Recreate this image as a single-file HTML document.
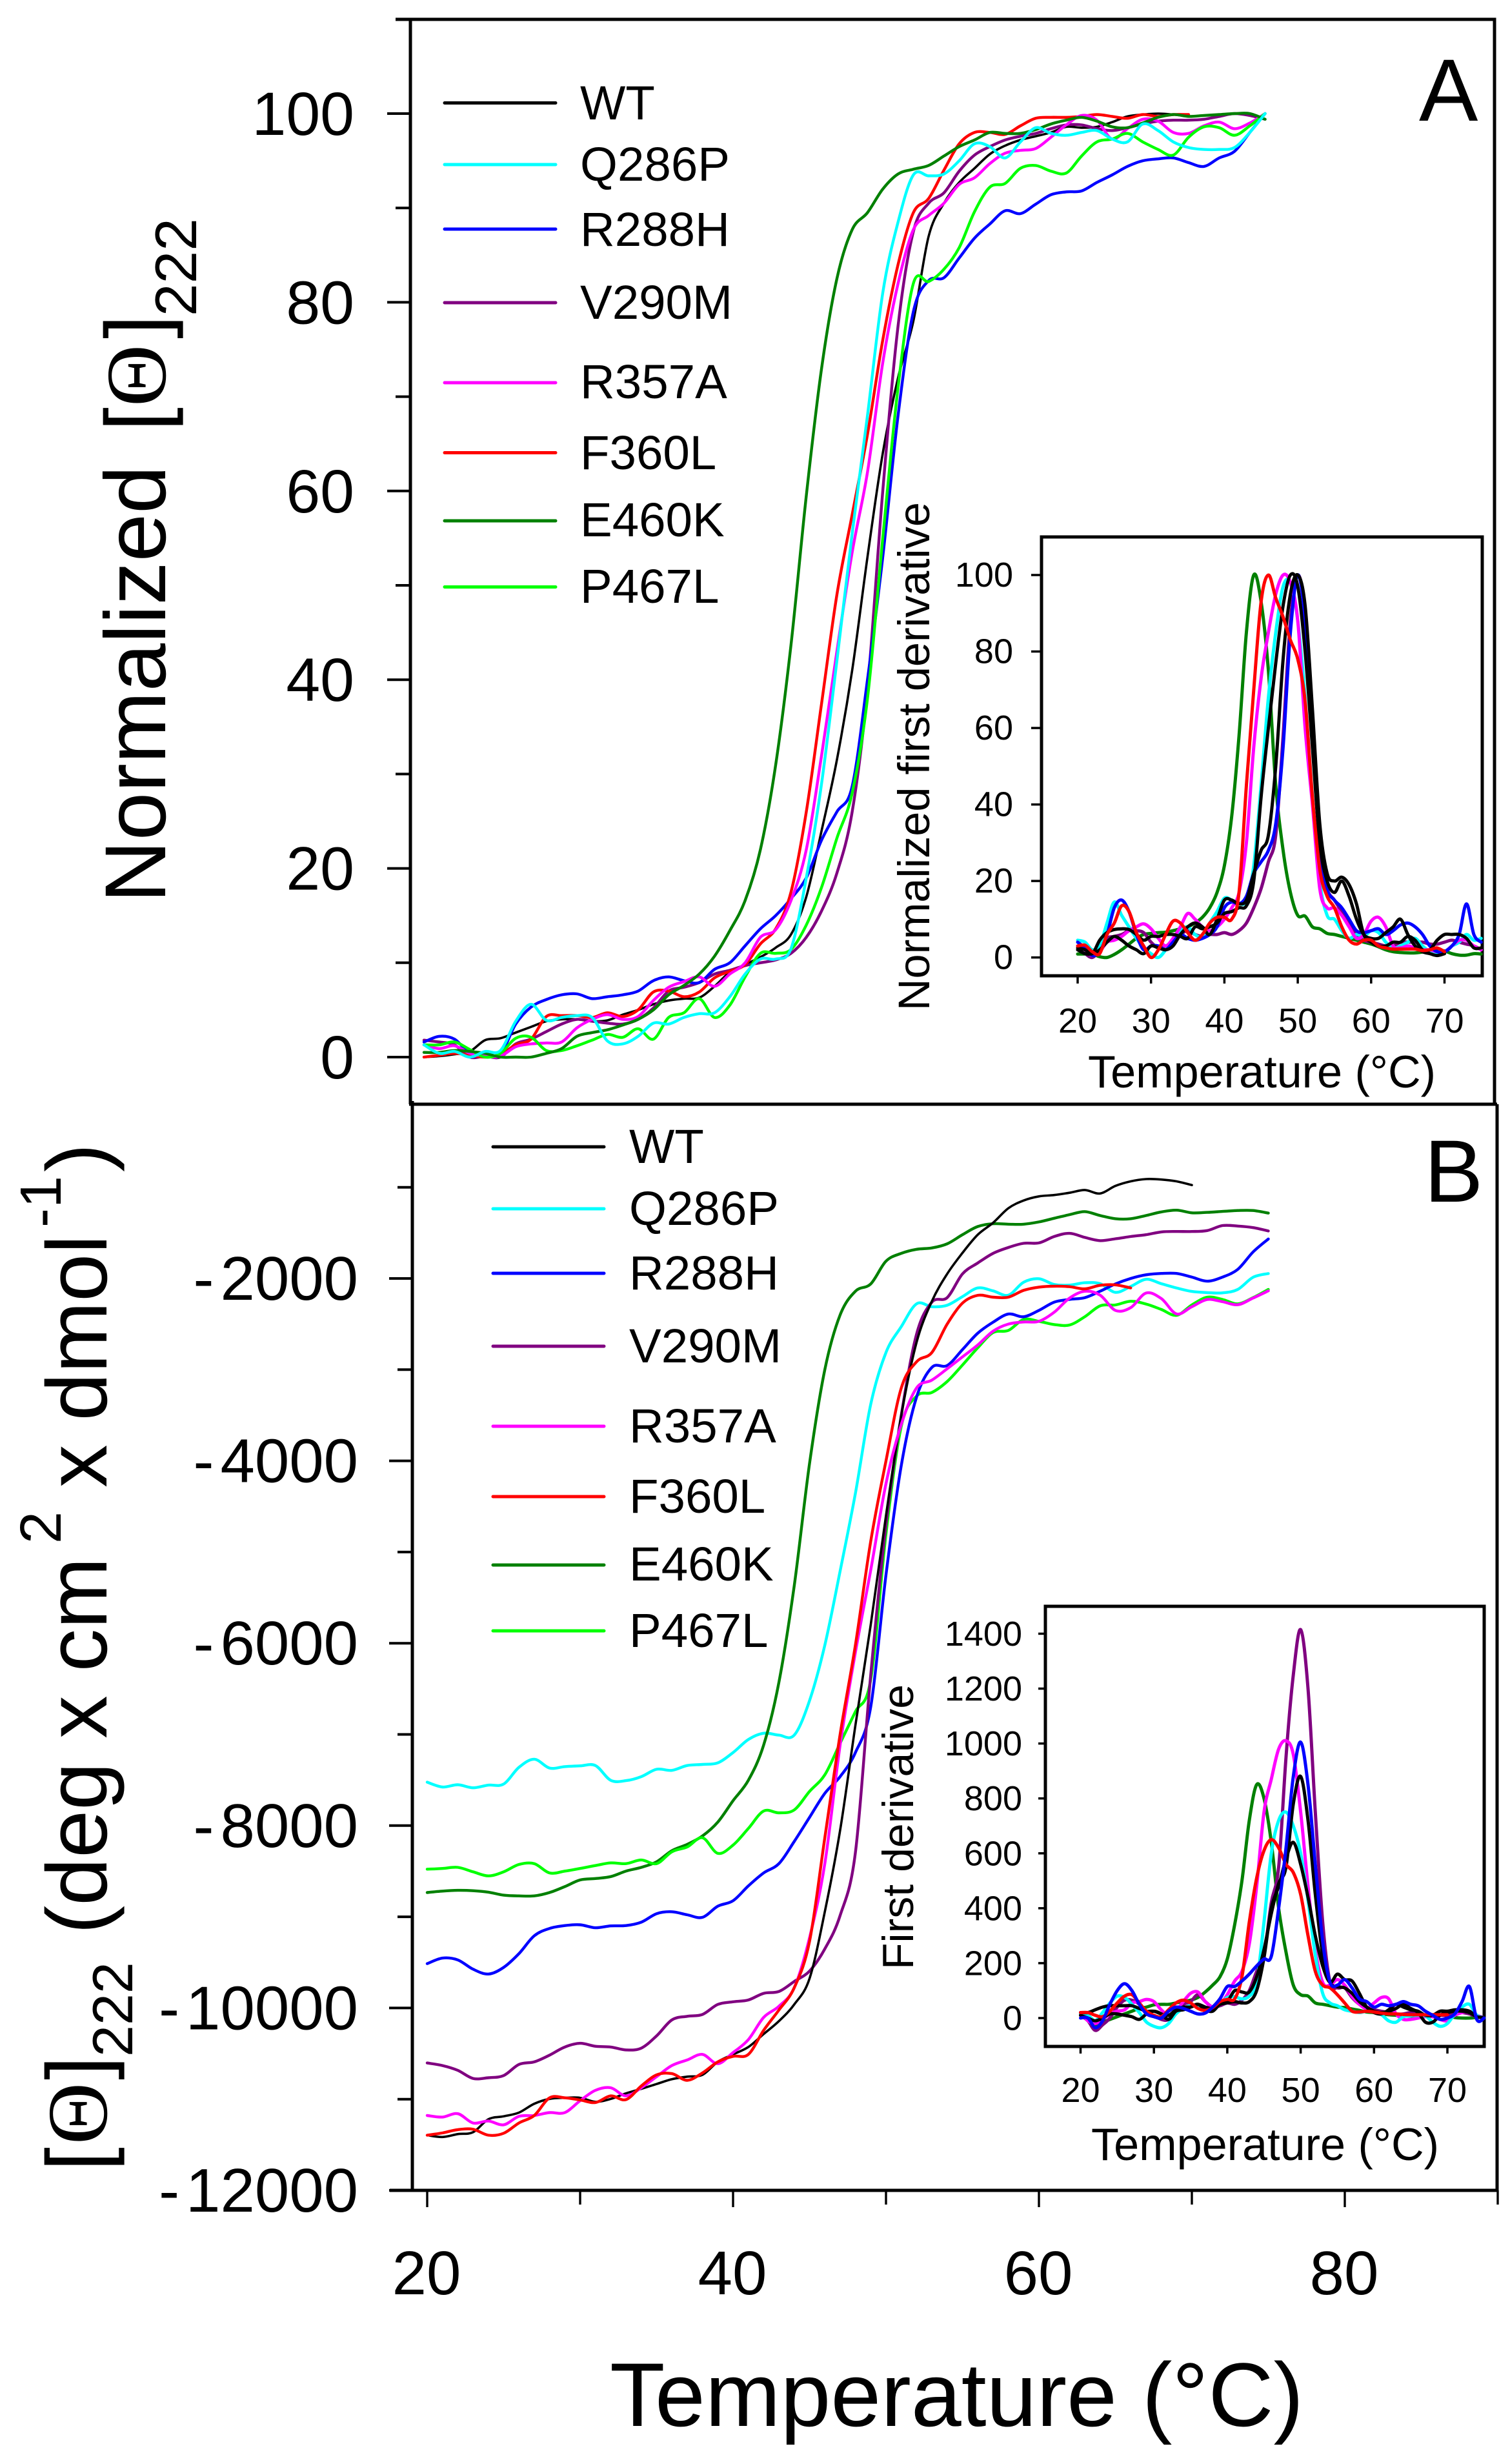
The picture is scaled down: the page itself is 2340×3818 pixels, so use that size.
<!DOCTYPE html>
<html lang="en">
<head>
<meta charset="utf-8">
<title>Thermal denaturation curves</title>
<style>
html,body{margin:0;padding:0;background:#fff;}
svg{display:block;}
text{font-family:"Liberation Sans",Arial,sans-serif;fill:#000;}
.serif{font-family:"Liberation Serif","Times New Roman",serif;}
</style>
</head>
<body>
<svg id="figure" xmlns="http://www.w3.org/2000/svg" width="2340" height="3818" viewBox="0 0 2340 3818">
<rect x="0" y="0" width="2340" height="3818" fill="#fff"/>
<g id="frames" stroke="#000" stroke-width="5" fill="none">
  <path d="M613 30H2316V1711M636 30V1711M634 1711H2320"/>
  <path d="M639 1706V3394M604 3394H2320V1711"/>
  <rect x="1614" y="832" width="683" height="680"/>
  <rect x="1620" y="2489" width="680" height="682"/>
</g>
<g id="ticks"></g>
<g id="curves"></g>
<g id="labels"></g>

<text x="2199" y="187" font-size="137">A</text>
<text x="2207" y="1862" font-size="137">B</text>

<g>
  <text transform="translate(256,1399) rotate(-90)" font-size="134">Normalized</text>
  <text transform="translate(256,668) rotate(-90)" font-size="133">[</text>
  <text class="serif" transform="translate(256,630) rotate(-90)" font-size="133">Θ</text>
  <text transform="translate(256,525) rotate(-90)" font-size="133">]</text>
  <text transform="translate(304,490) rotate(-90)" font-size="91">222</text>
</g>
<g>
  <text transform="translate(165,3364) rotate(-90)" font-size="133">[</text>
  <text class="serif" transform="translate(165,3323) rotate(-90)" font-size="133">Θ</text>
  <text transform="translate(165,3223) rotate(-90)" font-size="133">]</text>
  <text transform="translate(205,3187) rotate(-90)" font-size="88">222</text>
  <text transform="translate(165,2997) rotate(-90)" font-size="133">(deg x cm</text>
  <text transform="translate(94,2392) rotate(-90)" font-size="90">2</text>
  <text transform="translate(165,2305) rotate(-90)" font-size="133">x dmol</text>
  <text transform="translate(94,1902) rotate(-90)" font-size="90">-1</text>
  <text transform="translate(165,1816) rotate(-90)" font-size="133">)</text>
</g>
<text x="945" y="3759" font-size="140">Temperature (°C)</text>
<text x="1686" y="1685" font-size="70.2">Temperature (°C)</text>
<text x="1691" y="3347" font-size="70.2">Temperature (°C)</text>
<text transform="translate(1440,1566) rotate(-90)" font-size="68.5">Normalized first derivative</text>
<text transform="translate(1415,3052) rotate(-90)" font-size="68">First derivative</text>
<g id="legends"></g>
</svg>

<script>
/* shared temperature grid, degrees C */
const temps = [20,21,22,23,24,25,26,27,28,29,30,31,32,33,34,35,36,37,38,39,40,41,42,43,44,45,46,47,48,49,50,51,52,53,54,55,56,57,58,59,60,61,62,63,64,65,66,67,68,69,70,71,72,73,74,75];

/* Panel A: normalized signal */
const mainA_WT = [0,.1,.3,.6,1.8,2,2.6,3.2,3.8,4,4,3.8,3.9,4.5,5,5.6,6,6.2,6.3,7.5,9,9.8,10.6,11.6,13,17,24,31.5,41,53,64,72,78,87,90.5,92.7,94.2,95.7,96.6,97.2,97.6,98,98.6,98.5,98.6,99.1,99.7,99.9,100,99.9,99.7];
const mainA_Q286P = [1.3,.4,.6,0,.6,.7,3.8,5.6,3.9,4.2,4.4,4.2,1.7,1.4,2.2,3.6,3.5,4.2,4.6,4.7,6.4,8.8,10.4,10.4,11.5,19,29,42,55.5,68,81,88.5,93.5,93.4,93.6,95,96.8,96.5,95.3,97,98.5,97.9,97.7,98,98.2,97.3,97,98.9,98.2,97,96.4,96.2,96.2,96.4,98,100];
const mainA_R288H = [1.6,2.2,1.9,.4,.2,.3,3.5,5.3,6.1,6.6,6.7,6.2,6.4,6.6,7,8.1,8.5,8.1,7.9,9.3,10,11.8,13.6,15,16.8,19,23,26,28.7,40,53,68,79,82.3,82.6,84.7,86.8,88.3,89.7,89.4,90.4,91.4,91.7,91.8,92.7,93.5,94.4,95,95.2,95.3,94.8,94.4,95.3,96,98,100];
const mainA_V290M = [1.8,1.6,1.3,0,.1,0,1.4,1.9,2.7,3.5,4,3.8,3.6,3.5,4,5.2,7,7.4,7.9,8.8,9.2,9.7,10,10.3,11,12.7,15.5,19.5,26,39,60,77.5,87.5,90.5,91.6,93.9,95.6,96.5,97.2,97.6,97.9,98.4,98.8,98.8,98.4,98.2,98.5,98.9,99.2,99.3,99.3,99.4,99.7,100,99.8,99.4];
const mainA_R357A = [1.3,.9,1.2,.4,.1,.1,1.1,1.4,1.5,1.6,3.1,4,4.5,4,4.3,6,7.4,8,8.5,7.5,8.8,10,12.7,13.5,16.6,22,32,43,53.5,62,73.6,82,87.7,89.2,90.5,92.5,93.2,94.7,95.8,96.1,96.3,97.5,98.8,99.8,99.3,97.3,98.4,99.4,99.2,98,97.9,98.7,99.1,98.4,99,100];
const mainA_F360L = [0,.2,.4,.2,0,.3,1.3,1.9,4.3,4.4,4.4,4.2,4.7,4.3,5,6.9,7,6.4,6.9,8.4,9.1,9.8,12,13.6,17.5,26,37.5,49,57.5,66,76,84,89.5,91,94,96.8,98,98,97.8,98.7,99.5,99.6,99.6,99.7,99.9,99.7,99.5,99.9,99.7,99.9,99.9];
const mainA_E460K = [.5,.5,.7,.6,.4,0,0,0,.4,.9,2.2,2.6,2.9,3.4,4,5,6.6,7.6,8.8,10.7,13.4,16.6,22,31,43.7,59.5,73,82.5,87.7,89.5,92,93.6,94.1,94.5,95.5,96.5,97.2,98,97.9,97.9,98.3,98.9,99.3,99.6,99.2,98.6,98.5,99,99.6,99.9,99.7,99.8,99.9,100,100,99.4];
const mainA_P467L = [1.3,1.3,1.6,.8,0,.4,2,2.1,.7,.7,1.2,1.8,2.4,2.1,3,1.9,4.2,4.7,6.2,4.2,5.5,8.5,11,11,11.4,14,18,23.2,28,38,55,71,82,82.2,83.5,85.8,89.6,92.2,92.6,94.2,94.5,93.9,93.7,95.5,97,97.3,97.9,97,96.2,95.6,97.5,98.6,98.5,97.7,98.7,100];

/* Panel A inset: normalized first derivative */
const insetA_WT = [2.5,2,1,4.5,6.5,7.3,7.5,7.3,6,4.5,5.5,5.5,6,6,5.5,5,8,7.5,8,9,11.5,12,13,13.5,20,42,60,77,92,100,97,80,55,30,20,17,20,16,10,6,5,5,6.5,8,10,6,3,1.5,1,.5,1];
const insetA_Q286P = [4.5,4,2,3,9,14.5,11,8,5,2.5,1,0,2,5,7,8,6,5.5,9,12,15.5,15,14,15,24,45,68,85,97,98,88,68,42,20,11,10,7,5,6,5.5,7,6.5,4,2.5,3,4,5,3,1.5,1,1.5,3,4,6,4.5,5];
const insetA_R288H = [4,2.5,.5,1.5,6,13,15,12,6,2,3,3,2,4,6,5,4.5,5,6,8,13,14.5,14,16,22,25,28,35,55,85,100,88,60,30,18,15,13,10,7,6.5,7,7.5,6,7,8.5,9,8,6,3,1.5,1.5,3,6,14,6,4];
const insetA_V290M = [2,1,0,2,5,5.5,6,7,7,6.5,4,2.5,3,4,6,7,6,5.5,6,6,6.5,6,7,9,13,18,25,32,58,88,100,90,60,28,18,15,12,9,6,4.5,4,3.5,3,3,4,4,4,4,3.5,3.5,4,4.5,4,3.5,3,2];
const insetA_R357A = [3,2,.5,1.5,4,4.5,5.5,7,8,8.8,7.5,5,3,5,8,11.5,10,8,7,8,10,13,17,30,55,73,85,95,100,98,88,60,40,18,13,13,11,8,5,6,9.5,10.5,8,3,2.5,3,2.5,2,2,1.5,1.5,3,4.5,4.5,3,2];
const insetA_F360L = [3,3.2,1.5,1,6,9,13.5,12,6.5,3,0,2,6,9.5,9,6.5,4.5,6,9,10.5,10.5,10,17,45,70,93,100,94,89,83,78,67,42,23,16,13,8,4.5,3.5,4.5,4.5,3,2.5,2.2,2.2,2.2,2.2,1.8,2,2.5,1.5];
const insetA_E460K = [.9,.9,.9,.2,0,.8,2,3.5,5,6,6.3,6.5,6.6,7,7.5,8,9,10.5,13,17,24,37,58,85,100,93,75,45,28,17,11,10.8,8,7.5,6.3,6,5.5,5,4.5,4,3.5,2.8,2,1.5,1.3,1.2,1.2,1.4,1.6,1.8,1.7,1,.6,.6,1,.9];
const insetA_P467L = [2,1,1,2,4,5.5,4.5,3,2,1,3,2.5,2,3,6,8,9,8,6,10,15,15,14,15,22,28,32,50,78,95,100,92,65,35,22,20,21,19,14,6,4,3,3,4,4,5.5,4.5,2,2,4.5,6,6,6,5,2.5,2.5];

/* Panel B: raw signal */
const mainB_WT = [-11395,-11415,-11383,-11362,-11220,-11188,-11147,-11050,-10997,-10985,-10985,-11029,-10997,-10936,-10887,-10834,-10781,-10753,-10733,-10591,-10509,-10428,-10286,-10144,-9961,-9677,-8945,-8052,-6900,-5800,-4600,-3500,-2700,-2250,-1950,-1720,-1520,-1390,-1230,-1145,-1100,-1085,-1060,-1030,-1068,-985,-935,-910,-915,-935,-976];
const mainB_Q286P = [-7524,-7577,-7552,-7585,-7556,-7544,-7361,-7272,-7369,-7353,-7345,-7341,-7503,-7507,-7463,-7382,-7394,-7341,-7329,-7312,-7199,-7056,-6987,-7008,-7008,-6630,-6021,-5209,-4356,-3381,-2812,-2528,-2278,-2310,-2294,-2199,-2104,-2136,-2183,-2041,-2003,-2066,-2073,-2047,-2057,-2152,-2088,-2009,-2057,-2104,-2142,-2155,-2158,-2120,-1987,-1946];
const mainB_R288H = [-9514,-9453,-9473,-9575,-9628,-9555,-9404,-9209,-9128,-9096,-9088,-9120,-9100,-9096,-9059,-8966,-8945,-8978,-9006,-8884,-8824,-8661,-8519,-8417,-8174,-7910,-7646,-7463,-7199,-6700,-5250,-4050,-3300,-2975,-2955,-2780,-2600,-2480,-2390,-2420,-2350,-2260,-2230,-2210,-2140,-2060,-2000,-1960,-1945,-1945,-1985,-2030,-1985,-1900,-1710,-1567];
const mainB_V290M = [-10603,-10631,-10684,-10773,-10765,-10741,-10619,-10591,-10517,-10428,-10387,-10420,-10428,-10460,-10440,-10306,-10131,-10091,-10071,-9961,-9932,-9912,-9839,-9819,-9709,-9595,-9352,-8986,-8295,-6350,-4700,-3500,-2610,-2260,-2210,-1950,-1830,-1725,-1660,-1614,-1610,-1540,-1505,-1550,-1585,-1565,-1540,-1520,-1490,-1485,-1485,-1475,-1420,-1425,-1442,-1479];
const mainB_R357A = [-11179,-11196,-11159,-11261,-11240,-11281,-11188,-11179,-11147,-11147,-11017,-10903,-10875,-10964,-10875,-10753,-10631,-10570,-10509,-10611,-10489,-10347,-10103,-9981,-9778,-9230,-8417,-7117,-6100,-5200,-4250,-3600,-3200,-3115,-2990,-2860,-2730,-2578,-2500,-2477,-2470,-2370,-2215,-2140,-2183,-2350,-2320,-2160,-2220,-2389,-2310,-2231,-2255,-2288,-2215,-2136];
const mainB_F360L = [-11395,-11370,-11334,-11330,-11395,-11374,-11261,-11179,-10985,-10985,-11009,-11037,-10964,-11005,-10855,-10733,-10720,-10793,-10712,-10591,-10530,-10509,-10245,-10022,-9778,-9270,-8133,-7000,-6020,-4884,-4000,-3200,-2914,-2812,-2500,-2270,-2185,-2205,-2205,-2130,-2095,-2085,-2090,-2114,-2075,-2070,-2104];
const mainB_E460K = [-8734,-8718,-8710,-8714,-8730,-8763,-8771,-8771,-8734,-8669,-8596,-8580,-8559,-8499,-8458,-8397,-8275,-8206,-8113,-7962,-7727,-7503,-7117,-6427,-5370,-4030,-3000,-2400,-2140,-2060,-1810,-1725,-1680,-1665,-1620,-1520,-1430,-1400,-1405,-1405,-1380,-1340,-1300,-1267,-1310,-1345,-1345,-1310,-1270,-1251,-1280,-1275,-1265,-1255,-1255,-1283];
const mainB_P467L = [-8478,-8470,-8458,-8507,-8551,-8507,-8426,-8417,-8519,-8499,-8470,-8438,-8409,-8417,-8377,-8417,-8287,-8234,-8133,-8304,-8214,-8031,-7840,-7860,-7828,-7625,-7443,-7097,-6750,-6400,-4800,-3620,-3290,-3250,-3130,-2950,-2760,-2594,-2570,-2450,-2470,-2505,-2510,-2420,-2300,-2290,-2250,-2280,-2340,-2404,-2290,-2205,-2230,-2278,-2210,-2120];

/* Panel B inset: first derivative */
const insetB_WT = [20,20,30,40,45,45,45,45,35,25,25,15,10,30,40,40,50,40,35,50,60,100,95,95,150,250,380,490,550,780,880,720,450,230,130,115,110,90,60,40,25,20,25,35,50,35,20,-15,-15,10,20,25,25,20,5,2];
const insetB_Q286P = [15,10,-10,20,55,80,75,50,20,-15,-30,-35,-20,15,35,45,40,35,30,50,75,78,70,80,130,350,600,720,750,700,600,430,230,90,55,45,30,25,20,25,22,12,-10,-15,5,8,10,8,-15,-30,-20,15,40,50,10,2];
const insetB_R288H = [0,0,-35,-10,50,100,125,100,50,15,5,0,25,40,35,25,15,18,40,70,115,115,135,160,190,215,225,400,620,880,1005,850,560,280,130,120,140,110,70,60,40,50,45,50,60,50,45,25,10,-5,0,15,60,115,-5,0];
const insetB_V290M = [10,-10,-45,-25,0,40,65,65,50,15,10,-5,-5,30,50,60,85,60,40,45,55,50,65,100,170,230,420,550,950,1250,1415,1200,750,350,130,110,110,75,50,35,30,25,20,15,15,20,15,10,10,10,10,20,20,15,5,2];
const insetB_R357A = [20,-10,-20,-5,15,25,30,55,60,68,60,30,10,25,60,90,95,60,40,50,85,135,170,270,480,750,870,980,1010,960,750,480,250,130,120,140,120,80,50,35,55,75,70,15,-5,-5,0,5,5,-5,-10,10,20,25,10,2];
const insetB_F360L = [20,20,10,5,25,55,80,85,55,25,10,5,30,55,65,55,35,28,38,60,68,70,150,350,510,610,650,620,560,530,450,300,170,120,110,85,55,25,22,25,22,18,15,15,13,12,12,12,12,12,12];
const insetB_E460K = [10,-5,-25,-15,-5,5,15,25,35,40,48,50,50,55,60,65,75,95,120,150,215,340,500,720,850,800,640,400,240,120,85,80,55,50,45,40,38,33,28,22,20,15,12,10,8,7,8,10,12,12,8,2,0,0,2,2];
const insetB_P467L = [10,0,-10,0,15,15,10,5,-5,15,25,15,-5,25,30,40,50,30,25,50,55,60,55,60,100,220,400,480,580,640,560,440,300,190,130,160,140,135,90,40,20,15,30,50,40,30,25,10,10,25,25,30,30,25,5,2];

/* tick labels */
const ticksAY = [0,20,40,60,80,100];
const minorAY = [10,30,50,70,90,110];
const ticksBY = [-2000,-4000,-6000,-8000,-10000,-12000];
const minorBY = [-1000,-3000,-5000,-7000,-9000,-11000];
const ticksBX = [20,40,60,80];
const minorBX = [30,50,70,90];
const ticksInsetX = [20,30,40,50,60,70];
const ticksInsetAY = [0,20,40,60,80,100];
const ticksInsetBY = [0,200,400,600,800,1000,1200,1400];

/* legend entries */
const legendNames = ['WT','Q286P','R288H','V290M','R357A','F360L','E460K','P467L'];
const legendTextA = legendNames;
const legendTextB = legendNames;

const colors = {WT:'#000',Q286P:'#0ff',R288H:'#00f',V290M:'#800080',R357A:'#f0f',F360L:'#f00',E460K:'#008000',P467L:'#0f0'};

/* axis functions */
const xMainA = t => 657 + (t - 20) * 23.7;
const yMainA = v => 1638 - v * 14.62;
const xMainB = t => 662 + (t - 20) * 23.7;
const yMainB = v => 1981 + (-2000 - v) * 0.1413;
const xInsetA = t => 1670 + (t - 20) * 11.37;
const yInsetA = v => 1483.6 - v * 5.926;
const xInsetB = t => 1674.5 + (t - 20) * 11.37;
const yInsetB = v => 3127 - v * 0.4254;

const NS = 'http://www.w3.org/2000/svg';
function mk(tag, parent) {
  const el = document.createElementNS(NS, tag);
  parent.appendChild(el);
  return el;
}

function smoothPath(xs, ys) {
  let d = 'M' + xs[0].toFixed(1) + ' ' + ys[0].toFixed(1);
  for (let i = 0; i < xs.length - 1; i++) {
    const a = Math.max(i - 1, 0), b = Math.min(i + 2, xs.length - 1);
    const c1x = xs[i] + (xs[i + 1] - xs[a]) / 6;
    const c1y = ys[i] + (ys[i + 1] - ys[a]) / 6;
    const c2x = xs[i + 1] - (xs[b] - xs[i]) / 6;
    const c2y = ys[i + 1] - (ys[b] - ys[i]) / 6;
    d += 'C' + c1x.toFixed(1) + ' ' + c1y.toFixed(1) + ' ' + c2x.toFixed(1) + ' ' + c2y.toFixed(1) + ' ' + xs[i + 1].toFixed(1) + ' ' + ys[i + 1].toFixed(1);
  }
  return d;
}

const curvesGroup = document.getElementById('curves');
function drawCurve(panel, name, values, xf, yf, color, width) {
  const p = mk('path', curvesGroup);
  
  
  const xs = values.map((_, i) => xf(temps[i]));
  const ys = values.map(v => yf(v));
  p.setAttribute('d', smoothPath(xs, ys));
  p.setAttribute('fill', 'none');
  p.setAttribute('stroke', color);
  p.setAttribute('stroke-width', width);
  p.setAttribute('stroke-linejoin', 'round');
  p.setAttribute('stroke-linecap', 'round');
}

/* Panel A main */
drawCurve('panel-a', 'WT', mainA_WT, xMainA, yMainA, colors.WT, 3.6);
drawCurve('panel-a', 'V290M', mainA_V290M, xMainA, yMainA, colors.V290M, 4.4);
drawCurve('panel-a', 'R288H', mainA_R288H, xMainA, yMainA, colors.R288H, 4.4);
drawCurve('panel-a', 'F360L', mainA_F360L, xMainA, yMainA, colors.F360L, 4.4);
drawCurve('panel-a', 'R357A', mainA_R357A, xMainA, yMainA, colors.R357A, 4.4);
drawCurve('panel-a', 'P467L', mainA_P467L, xMainA, yMainA, colors.P467L, 4.4);
drawCurve('panel-a', 'E460K', mainA_E460K, xMainA, yMainA, colors.E460K, 4.4);
drawCurve('panel-a', 'Q286P', mainA_Q286P, xMainA, yMainA, colors.Q286P, 4.4);

/* Panel B main */
drawCurve('panel-b', 'Q286P', mainB_Q286P, xMainB, yMainB, colors.Q286P, 4.4);
drawCurve('panel-b', 'E460K', mainB_E460K, xMainB, yMainB, colors.E460K, 4.4);
drawCurve('panel-b', 'P467L', mainB_P467L, xMainB, yMainB, colors.P467L, 4.4);
drawCurve('panel-b', 'R288H', mainB_R288H, xMainB, yMainB, colors.R288H, 4.4);
drawCurve('panel-b', 'V290M', mainB_V290M, xMainB, yMainB, colors.V290M, 4.4);
drawCurve('panel-b', 'WT', mainB_WT, xMainB, yMainB, colors.WT, 3.6);
drawCurve('panel-b', 'R357A', mainB_R357A, xMainB, yMainB, colors.R357A, 4.4);
drawCurve('panel-b', 'F360L', mainB_F360L, xMainB, yMainB, colors.F360L, 4.4);

/* Inset A */
drawCurve('inset-a', 'E460K', insetA_E460K, xInsetA, yInsetA, colors.E460K, 5);
drawCurve('inset-a', 'V290M', insetA_V290M, xInsetA, yInsetA, colors.V290M, 5);
drawCurve('inset-a', 'Q286P', insetA_Q286P, xInsetA, yInsetA, colors.Q286P, 5);
drawCurve('inset-a', 'R357A', insetA_R357A, xInsetA, yInsetA, colors.R357A, 5);
drawCurve('inset-a', 'R288H', insetA_R288H, xInsetA, yInsetA, colors.R288H, 5);
drawCurve('inset-a', 'WT', insetA_WT, xInsetA, yInsetA, colors.WT, 5);
drawCurve('inset-a', 'P467L', insetA_P467L, xInsetA, yInsetA, '#000', 5);
drawCurve('inset-a', 'F360L', insetA_F360L, xInsetA, yInsetA, colors.F360L, 5);

/* Inset B */
drawCurve('inset-b', 'E460K', insetB_E460K, xInsetB, yInsetB, colors.E460K, 5);
drawCurve('inset-b', 'V290M', insetB_V290M, xInsetB, yInsetB, colors.V290M, 5);
drawCurve('inset-b', 'R357A', insetB_R357A, xInsetB, yInsetB, colors.R357A, 5);
drawCurve('inset-b', 'Q286P', insetB_Q286P, xInsetB, yInsetB, colors.Q286P, 5);
drawCurve('inset-b', 'WT', insetB_WT, xInsetB, yInsetB, colors.WT, 5);
drawCurve('inset-b', 'P467L', insetB_P467L, xInsetB, yInsetB, '#000', 5);
drawCurve('inset-b', 'F360L', insetB_F360L, xInsetB, yInsetB, colors.F360L, 5);
drawCurve('inset-b', 'R288H', insetB_R288H, xInsetB, yInsetB, colors.R288H, 5);

/* ticks and tick labels */
const ticksGroup = document.getElementById('ticks');
const labelsGroup = document.getElementById('labels');
function tickMark(name, x1, y1, x2, y2, w) {
  const l = mk('line', ticksGroup);
  
  
  l.setAttribute('x1', x1);
  l.setAttribute('y1', y1);
  l.setAttribute('x2', x2);
  l.setAttribute('y2', y2);
  l.setAttribute('stroke', '#000');
  l.setAttribute('stroke-width', w);
}
function tickText(name, str, x, y, size, anchor) {
  const t = mk('text', labelsGroup);
  
  
  t.setAttribute('x', x);
  t.setAttribute('y', y);
  t.setAttribute('font-size', size);
  t.setAttribute('text-anchor', anchor);
  t.textContent = str;
  return t;
}

ticksAY.forEach(v => {
  tickMark('panel-a-y-tick-' + v, 600, yMainA(v), 636, yMainA(v), 4);
  tickText('panel-a-y-label-' + v, String(v), 549, yMainA(v) + 33, 95, 'end');
});
minorAY.forEach(v => tickMark('panel-a-y-minor-tick-' + v, 613, yMainA(v), 636, yMainA(v), 4));

ticksBY.forEach(v => {
  tickMark('panel-b-y-tick' + v, 603, yMainB(v), 639, yMainB(v), 4);
  const t = tickText('panel-b-y-label' + v, '-', 555, yMainB(v) + 33, 96, 'end');
  const s = mk('tspan', t);
  s.setAttribute('dx', '10');
  s.textContent = String(Math.abs(v));
});
minorBY.forEach(v => tickMark('panel-b-y-minor-tick' + v, 616, yMainB(v), 639, yMainB(v), 4));

ticksBX.forEach(v => {
  tickMark('panel-b-x-tick-' + v, xMainB(v), 3394, xMainB(v), 3420, 3.4);
  tickText('panel-b-x-label-' + v, String(v), xMainB(v) - 1, 3555, 96, 'middle');
});
minorBX.forEach(v => tickMark('panel-b-x-minor-tick-' + v, xMainB(v), 3394, xMainB(v), 3416, 3.4));

ticksInsetX.forEach(v => {
  tickMark('inset-a-x-tick-' + v, xInsetA(v), 1512, xInsetA(v), 1524, 3.5);
  tickText('inset-a-x-label-' + v, String(v), xInsetA(v), 1600, 54, 'middle');
  tickMark('inset-b-x-tick-' + v, xInsetB(v), 3171, xInsetB(v), 3182, 3.5);
  tickText('inset-b-x-label-' + v, String(v), xInsetB(v), 3257, 54, 'middle');
});
ticksInsetAY.forEach(v => {
  tickMark('inset-a-y-tick-' + v, 1598, yInsetA(v), 1614, yInsetA(v), 3.5);
  tickText('inset-a-y-label-' + v, String(v), 1570, yInsetA(v) + 18, 54, 'end');
});
ticksInsetBY.forEach(v => {
  tickMark('inset-b-y-tick-' + v, 1609, yInsetB(v), 1620, yInsetB(v), 3.5);
  tickText('inset-b-y-label-' + v, String(v), 1584, yInsetB(v) + 18.5, 54, 'end');
});

/* legends */
const legendsGroup = document.getElementById('legends');
const legendLineYA = [159.5, 255, 355, 469, 593, 701.5, 807, 909.5];
const legendBaseYA = [185, 280, 381, 494, 617, 727, 831, 934];
const legendLineYB = [1777, 1873, 1973, 2086, 2210, 2319, 2425, 2527];
const legendBaseYB = [1802, 1898, 1998, 2111, 2235, 2344, 2449, 2552];
function drawLegend(panel, names, lineY, baseY, x1, x2, tx) {
  names.forEach((n, i) => {
    const l = mk('line', legendsGroup);
    
    
    l.setAttribute('x1', x1);
    l.setAttribute('y1', lineY[i]);
    l.setAttribute('x2', x2);
    l.setAttribute('y2', lineY[i]);
    l.setAttribute('stroke', colors[n]);
    l.setAttribute('stroke-width', 5);
    l.setAttribute('stroke-linecap', 'round');
    const t = mk('text', legendsGroup);
    
    
    t.setAttribute('x', tx);
    t.setAttribute('y', baseY[i]);
    t.setAttribute('font-size', 74.5);
    t.textContent = n;
  });
}
drawLegend('panel-a', legendTextA, legendLineYA, legendBaseYA, 689, 861, 899);
drawLegend('panel-b', legendTextB, legendLineYB, legendBaseYB, 764, 936, 975);
</script>
</body>
</html>
